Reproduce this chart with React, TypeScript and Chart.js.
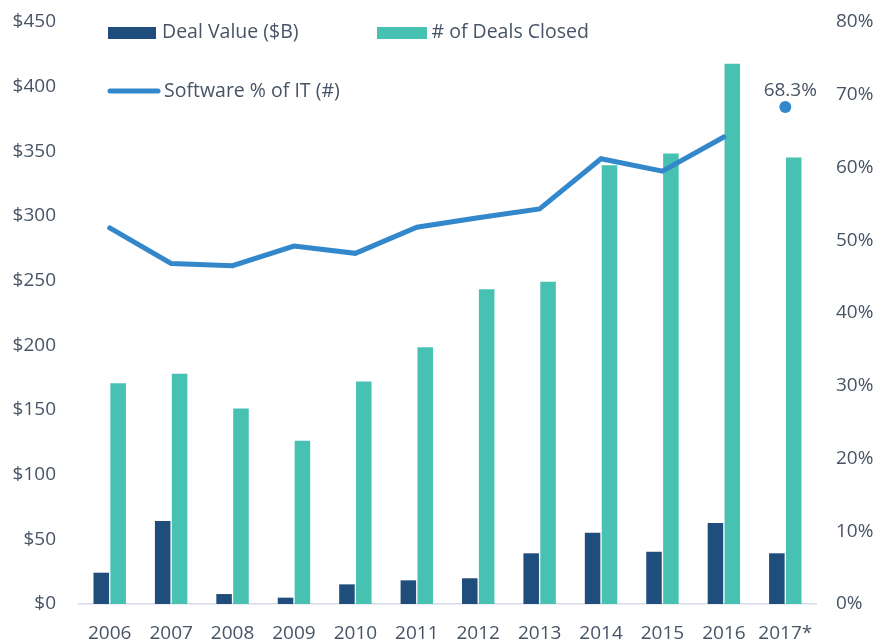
import React, { useEffect, useRef } from "react";
import { Chart, registerables } from "chart.js";

Chart.register(...registerables);

const years = ["2006", "2007", "2008", "2009", "2010", "2011", "2012", "2013", "2014", "2015", "2016", "2017*"];
const dealValue = [24.2, 64.1, 7.7, 4.9, 15.2, 18.3, 19.9, 39.2, 55.1, 40.4, 62.6, 39.2];
const dealsClosed = [170.6, 178, 151.2, 126.2, 172.1, 198.6, 243.4, 249.1, 339.3, 348.3, 417.8, 345.2];
const softwarePct = [51.7, 46.8, 46.5, 49.2, 48.2, 51.8, 53.1, 54.3, 61.2, 59.5, 64.2, 68.3];
const leftTicks = [0, 50, 100, 150, 200, 250, 300, 350, 400, 450];
const rightTicks = [0, 10, 20, 30, 40, 50, 60, 70, 80];

const DARK = "#1F4E7C";
const TEAL = "#47C1B2";
const LINE = "#3387CB";
const TEXT = "#475465";
const FONT = "'Open Sans', sans-serif";
const FS = 19;

const overlayPlugin = {
  id: "overlay",
  afterDraw(chart: any) {
    const ctx = chart.ctx;
    ctx.save();
    ctx.font = `19.5px ${FONT}`;
    ctx.fillStyle = TEXT;
    ctx.textBaseline = "middle";
    ctx.textAlign = "left";
    const ds = chart.data.datasets;
    // legend row 1
    ctx.fillStyle = DARK;
    ctx.fillRect(108, 27, 48, 12);
    ctx.fillStyle = TEXT;
    ctx.fillText(ds[1].label, 162, 32);
    ctx.fillStyle = TEAL;
    ctx.fillRect(377, 27, 50, 12);
    ctx.fillStyle = TEXT;
    ctx.fillText(ds[2].label, 431.5, 32);
    // legend row 2
    ctx.strokeStyle = LINE;
    ctx.lineWidth = 5;
    ctx.lineCap = "round";
    ctx.beginPath();
    ctx.moveTo(110, 91);
    ctx.lineTo(158, 91);
    ctx.stroke();
    ctx.fillStyle = TEXT;
    ctx.fillText(ds[0].label, 164, 91);
    // data label for last point
    const meta = chart.getDatasetMeta(0);
    const last = softwarePct.length - 1;
    const pt = meta.data[last];
    if (pt) {
      ctx.font = `${FS}px ${FONT}`;
      ctx.textAlign = "center";
      ctx.fillText(softwarePct[last].toFixed(1) + "%", pt.x + 5, pt.y - 17);
    }
    ctx.restore();
  },
};

export default function App() {
  const ref = useRef<HTMLCanvasElement>(null);
  useEffect(() => {
    if (!ref.current) return;
    const last = softwarePct.length - 1;
    const chart = new Chart(ref.current, {
      type: "bar",
      data: {
        labels: years,
        datasets: [
          {
            type: "line",
            label: "Software % of IT (#)",
            data: softwarePct,
            yAxisID: "y1",
            borderColor: LINE,
            backgroundColor: LINE,
            borderWidth: 5,
            tension: 0,
            order: 0,
            borderCapStyle: "round",
            pointRadius: (c: any) => (c.dataIndex === last ? 6 : 0),
            pointHoverRadius: 0,
            pointBorderWidth: 0,
            segment: {
              borderColor: (c: any) => (c.p1DataIndex === last ? "rgba(0,0,0,0)" : LINE),
            },
          } as any,
          {
            type: "bar",
            label: "Deal Value ($B)",
            data: dealValue,
            yAxisID: "y",
            backgroundColor: DARK,
            categoryPercentage: 0.55,
            barPercentage: 0.92,
            order: 1,
          },
          {
            type: "bar",
            label: "# of Deals Closed",
            data: dealsClosed,
            yAxisID: "y",
            backgroundColor: TEAL,
            categoryPercentage: 0.55,
            barPercentage: 0.92,
            order: 1,
          },
        ],
      },
      options: {
        animation: false,
        responsive: true,
        maintainAspectRatio: false,
        layout: { padding: { top: 22, left: 0, right: 0, bottom: 0 } },
        plugins: { legend: { display: false }, tooltip: { enabled: false } },
        scales: {
          x: {
            grid: { display: false, drawTicks: false },
            border: { display: true, color: "#D5DCE6", width: 1.5 },
            ticks: { color: TEXT, font: { family: FONT, size: FS }, padding: 18, maxRotation: 0 },
            afterFit: (s: any) => { s.height = 40; s.paddingLeft = 0; s.paddingRight = 0; },
          },
          y: {
            position: "left",
            min: 0,
            max: 450,
            afterBuildTicks: (s: any) => { s.ticks = leftTicks.map((v) => ({ value: v })); },
            grid: { display: false, drawTicks: false },
            border: { display: false },
            ticks: { color: TEXT, font: { family: FONT, size: FS }, padding: 23, callback: (v: any) => "$" + v },
            afterFit: (s: any) => { s.width = 79; s.paddingTop = 0; s.paddingBottom = 0; },
          },
          y1: {
            position: "right",
            min: 0,
            max: 80,
            afterBuildTicks: (s: any) => { s.ticks = rightTicks.map((v) => ({ value: v })); },
            grid: { display: false, drawTicks: false },
            border: { display: false },
            ticks: { color: TEXT, font: { family: FONT, size: FS }, padding: 20, callback: (v: any) => v + "%" },
            afterFit: (s: any) => { s.width = 76; s.paddingTop = 0; s.paddingBottom = 0; },
          },
        },
      },
      plugins: [overlayPlugin],
    });
    return () => chart.destroy();
  }, []);
  return (
    <div style={{ position: "absolute", left: 0, top: 0, width: 892, height: 644, background: "#fff" }}>
      <canvas ref={ref} />
    </div>
  );
}
